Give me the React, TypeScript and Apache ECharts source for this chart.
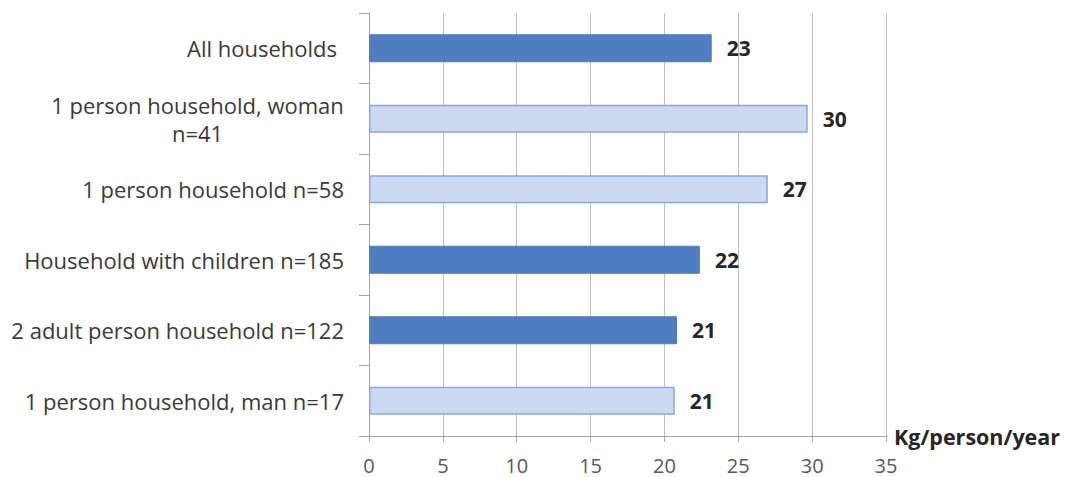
import React, { useEffect, useRef } from "react";
import * as echarts from "echarts";

// Household groups, top to bottom
const categories = [
  "All households",
  "1 person household, woman\nn=41",
  "1 person household n=58",
  "Household with children n=185",
  "2 adult person household n=122",
  "1 person household, man n=17",
];

// Kg per person per year
const wasteKg = [23.2, 29.7, 27.0, 22.4, 20.85, 20.7];

// Single-person groups are drawn in the light style
const singlePerson = [false, true, true, false, false, true];

const xMin = 0;
const xMax = 35;
const xStep = 5;
const unitLabel = "Kg/person/year";

const FONT = "'Open Sans', 'Noto Sans', sans-serif";
const CAT_SIZE = 22;
const DARK = "#4F7DC2";
const LIGHT = "#CCDAF1";
const LIGHT_BORDER = "#86A8E0";

function measure(text: string, font: string): number {
  const ctx = document.createElement("canvas").getContext("2d");
  if (!ctx) return text.length * 12;
  ctx.font = font;
  return Math.ceil(ctx.measureText(text).width);
}

export default function App() {
  const ref = useRef<HTMLDivElement>(null);

  useEffect(() => {
    if (!ref.current) return;
    const chart = echarts.init(ref.current, undefined, { renderer: "svg" });

    const lineWidth = measure(categories[1].split("\n")[0], `${CAT_SIZE}px ${FONT}`);

    chart.setOption({
      animation: false,
      backgroundColor: "#ffffff",
      grid: { left: 369, right: 180, top: 13, bottom: 41, containLabel: false },
      xAxis: {
        type: "value",
        min: xMin,
        max: xMax,
        interval: xStep,
        name: unitLabel,
        nameLocation: "end",
        nameGap: 8,
        nameTextStyle: {
          fontFamily: FONT,
          fontSize: 21.5,
          fontWeight: "bold",
          color: "#262626",
          align: "left",
          verticalAlign: "middle",
        },
        axisLine: { show: true, lineStyle: { color: "#A6A6A6", width: 1 } },
        axisTick: { show: true, length: 6, lineStyle: { color: "#A6A6A6" } },
        splitLine: { show: true, lineStyle: { color: "#BFBFBF", width: 1 } },
        axisLabel: {
          margin: 19,
          fontFamily: FONT,
          fontSize: 20,
          color: "#595959",
        },
      },
      yAxis: {
        type: "category",
        inverse: true,
        data: categories,
        axisLine: { show: true, lineStyle: { color: "#A6A6A6", width: 1 } },
        axisTick: { show: true, length: 10, lineStyle: { color: "#A6A6A6" } },
        axisLabel: {
          margin: 25,
          fontFamily: FONT,
          fontSize: CAT_SIZE,
          color: "#3A3A3A",
          lineHeight: 28,
          formatter: (value: string) => {
            if (value.includes("\n")) {
              return value
                .split("\n")
                .map((l) => `{c|${l}}`)
                .join("\n");
            }
            if (value === categories[0]) return `{pad|${value}}`;
            return value;
          },
          rich: {
            c: {
              width: lineWidth,
              align: "center",
              fontFamily: FONT,
              fontSize: CAT_SIZE,
              color: "#3A3A3A",
              lineHeight: 28,
            },
            pad: {
              padding: [0, 7, 0, 0],
              fontFamily: FONT,
              fontSize: CAT_SIZE,
              color: "#3A3A3A",
            },
          },
        },
      },
      series: [
        {
          type: "bar",
          barWidth: 28,
          data: wasteKg.map((v, i) => ({
            value: v,
            itemStyle: singlePerson[i]
              ? { color: LIGHT, borderColor: LIGHT_BORDER, borderWidth: 1.5 }
              : { color: DARK, borderColor: DARK, borderWidth: 1 },
          })),
          label: {
            show: true,
            position: "right",
            distance: 15,
            fontFamily: FONT,
            fontSize: 21,
            fontWeight: "bold",
            color: "#262626",
            formatter: (p: any) => String(Math.round(p.value)),
          },
        },
      ],
    });

    return () => chart.dispose();
  }, []);

  return (
    <div
      ref={ref}
      style={{
        position: "absolute",
        left: 0,
        top: 0,
        width: 1066,
        height: 477,
        background: "#ffffff",
      }}
    />
  );
}
